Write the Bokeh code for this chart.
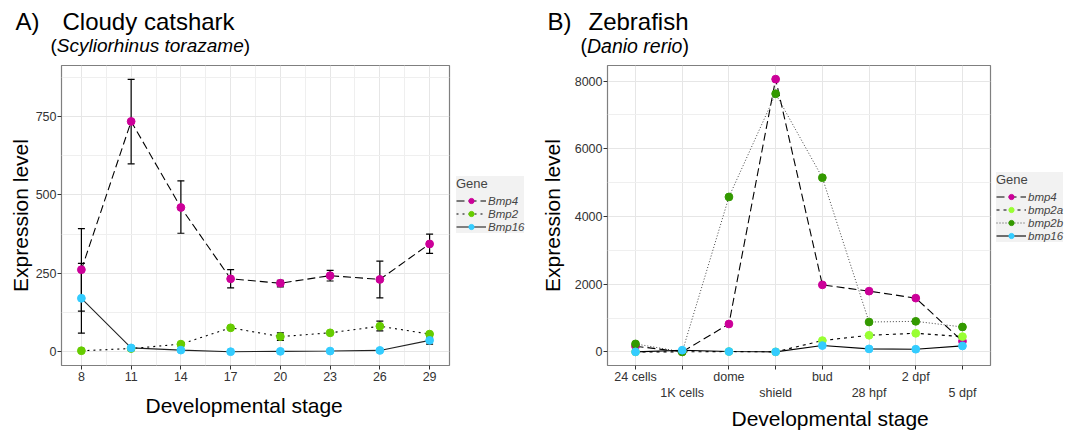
from bokeh.plotting import figure
from bokeh.models import (Range1d, FixedTicker, Legend, LegendItem, Label, Title,
                          Whisker, ColumnDataSource, TeeHead)
from bokeh.layouts import row, column
from bokeh.embed import file_html
from bokeh.resources import INLINE

FONT = "Liberation Sans"

# ---------------- Panel A: Cloudy catshark ----------------
shark_stage = [8, 11, 14, 17, 20, 23, 26, 29]
shark_bmp4 = [262, 734, 460, 233, 219, 243, 231, 344]
shark_bmp4_lo = [130, 599, 378, 204, 207, 226, 172, 314]
shark_bmp4_hi = [393, 868, 545, 262, 228, 260, 289, 375]
shark_bmp2 = [4, 11, 25, 77, 49, 61, 82, 57]
shark_bmp2_lo = [4, 11, 25, 77, 37, 61, 67, 57]
shark_bmp2_hi = [4, 11, 25, 77, 61, 61, 98, 57]
shark_bmp16 = [171, 13, 6, 1, 2, 3, 5, 37]
shark_bmp16_lo = [60, 13, 6, 1, 2, 3, 5, 25]
shark_bmp16_hi = [282, 13, 6, 1, 2, 3, 5, 45]
shark_xticks = [8, 11, 14, 17, 20, 23, 26, 29]
shark_yticks = [0, 250, 500, 750]
shark_genes = ["Bmp4", "Bmp2", "Bmp16"]

# ---------------- Panel B: Zebrafish ----------------
fish_stages = ["24 cells", "1K cells", "dome", "shield", "bud", "28 hpf", "2 dpf", "5 dpf"]
fish_bmp4 = [167, 0, 824, 8059, 1980, 1794, 1588, 314]
fish_bmp2a = [0, 0, 10, 0, 333, 490, 549, 451]
fish_bmp2b = [235, 0, 4578, 7627, 5147, 882, 902, 735]
fish_bmp16 = [0, 49, 10, 0, 186, 88, 78, 176]
fish_yticks = [0, 2000, 4000, 6000, 8000]
fish_genes = ["bmp4", "bmp2a", "bmp2b", "bmp16"]

MAGENTA = "#cc0099"
GREEN = "#66cc00"
CYAN = "#33ccff"
LGREEN = "#99ff33"
DGREEN = "#339900"

# style per series: (point colour, dash, line colour, line width)
shark_styles = [(MAGENTA, "8 4", "black", 1.1),
                (GREEN, "2 4", "black", 1.1),
                (CYAN, "solid", "#222222", 1.1)]
fish_styles = [(MAGENTA, "8 4", "black", 1.1),
               (LGREEN, "3 4", "black", 1.1),
               (DGREEN, "1 2", "#444444", 1.0),
               (CYAN, "solid", "black", 1.1)]

ROW_H = 373


def band(width, height, x0, y0):
    b = figure(width=width, height=height, x_range=Range1d(x0, x0 + width),
               y_range=Range1d(y0 + height, y0), x_axis_type=None, y_axis_type=None,
               output_backend="svg", toolbar_location=None, min_border=0)
    b.outline_line_color = None
    b.xgrid.visible = False
    b.ygrid.visible = False
    return b


def add_text(p, x, y, text, size, style="normal", align="left", baseline="middle"):
    p.add_layout(Label(x=x, y=y, text=text, text_font=FONT, text_font_size=size,
                       text_font_style=style, text_baseline=baseline,
                       text_align=align, text_color="black"))


def base_fig(width, bl, br, xr, yr, xtitle_offset, xtitle_standoff):
    p = figure(width=width, height=ROW_H, x_range=xr, y_range=yr,
               output_backend="svg", toolbar_location=None,
               min_border_left=bl, min_border_right=br,
               min_border_top=7, min_border_bottom=ROW_H - 7 - 301)
    p.outline_line_color = "#7f7f7f"
    p.outline_line_width = 1.2
    for ax in (p.xaxis, p.yaxis):
        ax.axis_line_color = None
        ax.major_tick_line_color = "#333333"
        ax.major_tick_out = 4
        ax.major_tick_in = 0
        ax.minor_tick_out = 0
        ax.minor_tick_in = 0
        ax.major_label_text_font = FONT
        ax.major_label_text_font_size = "12.5px"
        ax.major_label_text_color = "#333333"
    p.yaxis.major_label_standoff = 1
    p.xaxis.major_label_standoff = 2
    p.yaxis.axis_label = "Expression level"
    p.yaxis.axis_label_text_font = FONT
    p.yaxis.axis_label_text_font_size = "21px"
    p.yaxis.axis_label_text_font_style = "normal"
    p.yaxis.axis_label_text_color = "black"
    for g in (p.xgrid, p.ygrid):
        g.grid_line_color = "#e6e6e6"
        g.grid_line_width = 1
        g.minor_grid_line_color = "#efefef"
        g.minor_grid_line_width = 1
    t = Title(text="Developmental stage", align="left", offset=xtitle_offset,
              text_font=FONT, text_font_size="21px", text_font_style="normal",
              text_color="black")
    try:
        t.standoff = xtitle_standoff
    except AttributeError:
        pass
    p.add_layout(t, "below")
    return p


def add_err(p, xs, lo, hi):
    xx, ll, hh = [], [], []
    for a, b, c in zip(xs, lo, hi):
        if c > b:
            xx.append(a); ll.append(b); hh.append(c)
    src = ColumnDataSource(dict(x=xx, lo=ll, hi=hh))
    w = Whisker(source=src, base="x", lower="lo", upper="hi", dimension="height",
                line_color="black", line_width=1.2,
                lower_head=TeeHead(size=7, line_color="black", line_width=1.2),
                upper_head=TeeHead(size=7, line_color="black", line_width=1.2))
    p.add_layout(w)


def draw_series(p, xs, ys_list, styles):
    out = []
    for ys, (pc, dash, lc, lw) in zip(ys_list, styles):
        out.append(p.line(xs, ys, line_color=lc, line_width=lw, line_dash=dash))
    return out


def draw_points(p, xs, ys_list, styles):
    out = []
    for ys, (pc, dash, lc, lw) in zip(ys_list, styles):
        out.append(p.scatter(xs, ys, size=7.8, fill_color=pc, line_color=pc))
    return out


def legend_fig(width, x0, xs, ys_list, genes, styles, loc):
    # a narrow panel holding the legend; its series copies lie outside its x-range
    lf = band(width, ROW_H, x0, 58)
    lines = draw_series(lf, xs, ys_list, styles)
    pts = draw_points(lf, xs, ys_list, styles)
    items = [LegendItem(label=g, renderers=[l, s]) for g, l, s in zip(genes, lines, pts)]
    leg = Legend(items=items, location=loc)
    leg.title = "Gene"
    leg.title_text_font = FONT
    leg.title_text_font_size = "13px"
    leg.title_text_font_style = "normal"
    leg.title_standoff = 3
    leg.label_text_font = FONT
    leg.label_text_font_size = "11.5px"
    leg.label_text_font_style = "italic"
    leg.label_standoff = 2
    leg.glyph_width = 30
    leg.glyph_height = 13
    leg.label_height = 13
    leg.spacing = 0
    leg.padding = 5
    leg.margin = 0
    leg.background_fill_color = "#f2f2f2"
    leg.background_fill_alpha = 1
    leg.border_line_color = None
    lf.add_layout(leg)
    return lf


# ---------- title band ----------
top = band(1077, 58, 0, 0)
add_text(top, 15, 21, "A)", "24px")
add_text(top, 62, 21, "Cloudy catshark", "24px")
add_text(top, 50, 45, "(", "19px")
add_text(top, 56.3, 45, "Scyliorhinus torazame", "19px", style="italic")
add_text(top, 243.3, 45, ")", "19px")
add_text(top, 547, 21, "B)", "24px")
add_text(top, 588, 21, "Zebrafish", "24px")
add_text(top, 580, 45, "(", "19.5px")
add_text(top, 586.5, 45, "Danio rerio", "19.5px", style="italic")
add_text(top, 681.9, 45, ")", "19.5px")

# ---------- figure A ----------
pA = base_fig(451, 61, 2, Range1d(6.8, 30.2), Range1d(-43, 912), 84, 16)
pA.yaxis.axis_label_standoff = 1
pA.xaxis.ticker = FixedTicker(ticks=shark_xticks,
                              minor_ticks=[9.5, 12.5, 15.5, 18.5, 21.5, 24.5, 27.5])
pA.yaxis.ticker = FixedTicker(ticks=shark_yticks, minor_ticks=[125, 375, 625, 875])
shark_vals = [shark_bmp4, shark_bmp2, shark_bmp16]
draw_series(pA, shark_stage, shark_vals, shark_styles)
add_err(pA, shark_stage, shark_bmp4_lo, shark_bmp4_hi)
add_err(pA, shark_stage, shark_bmp2_lo, shark_bmp2_hi)
add_err(pA, shark_stage, shark_bmp16_lo, shark_bmp16_hi)
draw_points(pA, shark_stage, shark_vals, shark_styles)

legA = legend_fig(86, 451, shark_stage, shark_vals, shark_genes, shark_styles, (5, 132))

# ---------- figure B ----------
pB = base_fig(455, 67, 2, Range1d(0.4, 8.6), Range1d(-403, 8462), 124, 3)
pB.yaxis.axis_label_standoff = 8
pB.xaxis.major_label_standoff = 0
xs = list(range(1, len(fish_stages) + 1))
pB.xaxis.ticker = FixedTicker(ticks=xs, minor_ticks=[])
pB.yaxis.ticker = FixedTicker(ticks=fish_yticks, minor_ticks=[1000, 3000, 5000, 7000])
pB.xaxis.major_label_overrides = {i + 1: (s if i % 2 == 0 else "\n" + s)
                                  for i, s in enumerate(fish_stages)}
fish_vals = [fish_bmp4, fish_bmp2a, fish_bmp2b, fish_bmp16]
draw_series(pB, xs, fish_vals, fish_styles)
draw_points(pB, xs, fish_vals, fish_styles)

legB = legend_fig(85, 992, xs, fish_vals, fish_genes, fish_styles, (4, 123))

layout = column(top, row(pA, legA, pB, legB))
open("out.html", "w").write(file_html(layout, INLINE))
